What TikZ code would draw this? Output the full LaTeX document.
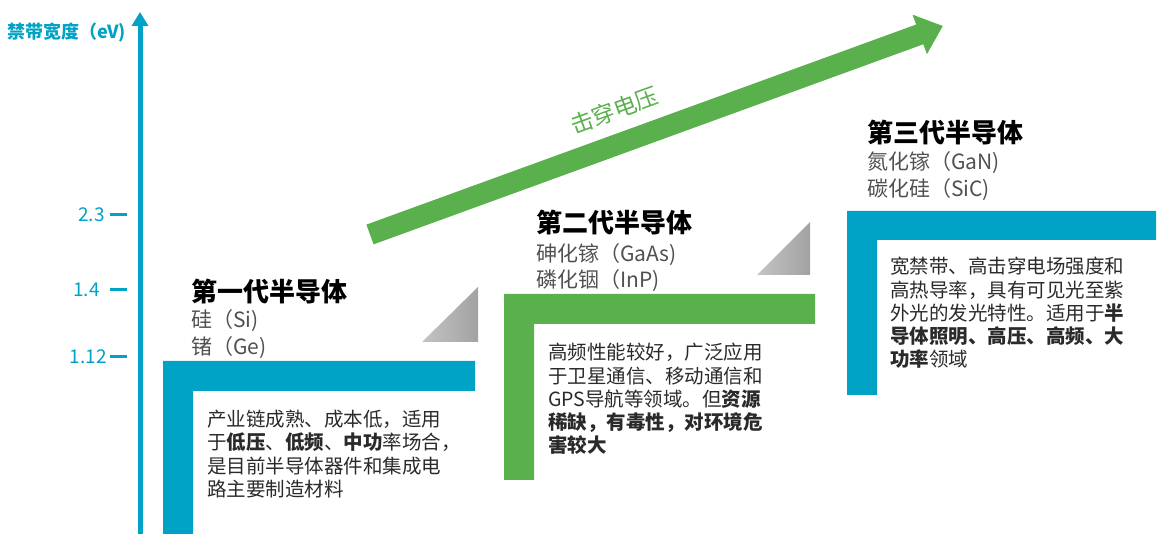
\documentclass[tikz,border=0pt]{standalone}
\usepackage{fontspec}
\setmainfont{Noto Sans CJK SC}
\usetikzlibrary{arrows.meta}
\definecolor{tealc}{HTML}{00A2C5}
\definecolor{greenc}{HTML}{5BB04E}
\definecolor{subgray}{HTML}{505050}
\definecolor{bodytext}{HTML}{2A2A2A}
\definecolor{trilight}{HTML}{C4C4C4}
\definecolor{tridark}{HTML}{A2A2A2}
\begin{document}
\begin{tikzpicture}[x=1pt,y=-1pt,
  lbar/.style={fill=#1,draw=none},
  tri/.style={left color=trilight,right color=tridark,draw=none},
  title/.style={anchor=west,inner sep=0pt,font=\fontsize{26}{30}\selectfont\bfseries,text=black},
  sublabel/.style={anchor=west,inner sep=0pt,font=\fontsize{21}{25}\selectfont,text=subgray},
  body/.style={anchor=north west,inner sep=0pt,align=left,font=\fontsize{19.5}{23.3}\selectfont,text=bodytext},
  ticklabel/.style={anchor=east,inner sep=0pt,font=\fontsize{19}{22}\selectfont,text=tealc},
  tickmark/.style={draw=tealc,line width=3pt}]
\useasboundingbox (0,0) rectangle (1163,534);

% axis
\draw[tealc,line width=5pt,-{Triangle[width=16pt,length=14pt]}] (140,534) -- (140,12);
\node[anchor=west,inner sep=0pt,font=\fontsize{18}{20}\selectfont\bfseries,text=tealc] (axlabel) at (7,33) {禁带宽度（eV)};
\node[ticklabel] (t23) at (105,215) {2.3};
\node[ticklabel] (t14) at (100,290) {1.4};
\node[ticklabel] (t112) at (107,357) {1.12};
\draw[tickmark] (110,215) -- (127,215);
\draw[tickmark] (110,290) -- (127,290);
\draw[tickmark] (110,357) -- (127,357);

% big arrow
\begin{scope}[shift={(370,234.5)},rotate=20]
  \fill[greenc] (0,-10.5) -- (585,-10.5) -- (585,-21) -- (609.6,0) -- (585,21) -- (585,10.5) -- (0,10.5) -- cycle;
  \node[rotate=20,inner sep=0pt,text=greenc,font=\fontsize{23}{26}\selectfont] (volt) at (272,-33) {击穿电压};
\end{scope}

% L-shaped bars
\fill[lbar=tealc] (163,361) -- (475,361) -- (475,391) -- (193,391) -- (193,534) -- (163,534) -- cycle;
\fill[lbar=greenc] (504,294) -- (815,294) -- (815,324) -- (534,324) -- (534,480) -- (504,480) -- cycle;
\fill[lbar=tealc] (847,211) -- (1156,211) -- (1156,240) -- (877,240) -- (877,395) -- (847,395) -- cycle;

% triangles
\shade[tri] (422,342) -- (478,342) -- (478,287) -- cycle;
\shade[tri] (757,275) -- (810,275) -- (810,222) -- cycle;

% generation 1
\node[title] (g1) at (191,292) {第一代半导体};
\node[sublabel] (g1a) at (191,321) {硅（Si)};
\node[sublabel] (g1b) at (191,348) {锗（Ge)};
\node[body] (g1t) at (207,410) {产业链成熟、成本低，适用\\于\textbf{低压}、\textbf{低频}、\textbf{中功}率场合，\\是目前半导体器件和集成电\\路主要制造材料};

% generation 2
\node[title] (g2) at (536,223) {第二代半导体};
\node[sublabel] (g2a) at (536,255) {砷化镓（GaAs)};
\node[sublabel] (g2b) at (536,281) {磷化铟（InP)};
\node[body] (g2t) at (548,343) {高频性能较好，广泛应用\\于卫星通信、移动通信和\\GPS导航等领域。但\textbf{资源}\\\textbf{稀缺，有毒性，对环境危}\\\textbf{害较大}};

% generation 3
\node[title] (g3) at (867,133) {第三代半导体};
\node[sublabel] (g3a) at (867,163) {氮化镓（GaN)};
\node[sublabel] (g3b) at (867,190) {碳化硅（SiC)};
\node[body] (g3t) at (890,257) {宽禁带、高击穿电场强度和\\高热导率，具有可见光至紫\\外光的发光特性。适用于\textbf{半}\\\textbf{导体照明、高压、高频、大}\\\textbf{功率}领域};
\end{tikzpicture}
\end{document}
